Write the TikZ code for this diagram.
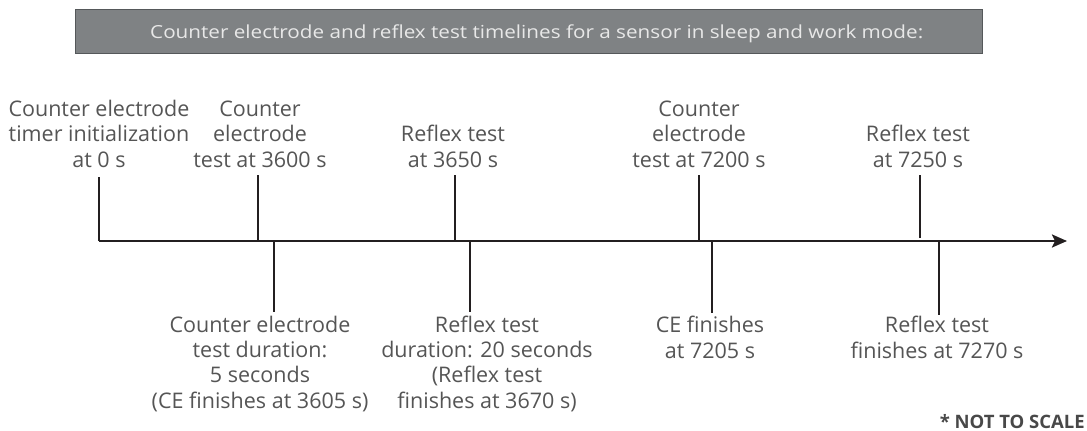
\documentclass[tikz,border=0pt]{standalone}
\usepackage{fontspec}
\setmainfont{Open Sans}
\usetikzlibrary{arrows.meta}
\definecolor{barfill}{HTML}{7F8284}
\definecolor{barline}{HTML}{55585A}
\definecolor{bartext}{HTML}{E8E8E8}
\definecolor{labeltext}{HTML}{555555}
\definecolor{axisink}{HTML}{231F20}
\tikzset{
  label/.style={align=center, inner sep=0pt, anchor=base, text=labeltext,
    font=\fontsize{21.5}{25.3}\selectfont},
  tick/.style={draw=axisink, line width=2.2pt},
  axis/.style={draw=axisink, line width=2.4pt, -{Stealth[length=15pt,width=13pt,inset=3pt]}},
}
\begin{document}
\begin{tikzpicture}[x=1pt,y=-1pt]
\useasboundingbox (0,0) rectangle (1087,431);

% heading bar
\fill[barfill] (75,9) rectangle (982,53);
\draw[barline, line width=1pt] (75,53) -- (75,9) -- (982,9) -- (982,53) -- cycle;
\node[inner sep=0pt, anchor=base west, text=bartext, font=\fontsize{18}{20}\selectfont]
  (title) at (150,38)
  {\resizebox{773pt}{\height}{Counter electrode and reflex test timelines for a sensor in sleep and work mode:}};

% time axis
\coordinate (start) at (99,241);
\coordinate (end) at (1067,241);
\draw[axis] (start) -- (end);

% events above the axis
\coordinate (u1) at (258,241); \coordinate (u1t) at (258,175);
\coordinate (u2) at (455,241); \coordinate (u2t) at (455,175);
\coordinate (u3) at (699,241); \coordinate (u3t) at (699,175);
\coordinate (u4) at (920,238); \coordinate (u4t) at (920,175);
\coordinate (u0t) at (99,177);
\draw[tick] (start) -- (u0t);
\draw[tick] (u1) -- (u1t);
\draw[tick] (u2) -- (u2t);
\draw[tick] (u3) -- (u3t);
\draw[tick] (u4) -- (u4t);

% events below the axis
\coordinate (d1) at (274,241); \coordinate (d1b) at (274,312);
\coordinate (d2) at (470,241); \coordinate (d2b) at (470,312);
\coordinate (d3) at (712,241); \coordinate (d3b) at (712,313);
\coordinate (d4) at (939,241); \coordinate (d4b) at (939,315);
\draw[tick] (d1) -- (d1b);
\draw[tick] (d2) -- (d2b);
\draw[tick] (d3) -- (d3b);
\draw[tick] (d4) -- (d4b);

% labels above (anchored at the baseline of their last line)
\node[label] (a0) at (99,167) {Counter electrode\\timer initialization\\at 0 s};
\node[label] (a1) at (260,167) {Counter\\electrode\\test at 3600 s};
\node[label] (a2) at (453,167) {Reflex test\\at 3650 s};
\node[label] (a3) at (699,167) {Counter\\electrode\\test at 7200 s};
\node[label] (a4) at (918,167) {Reflex test\\at 7250 s};

% labels below
\node[label] (b1) at (260,408) {Counter electrode\\test duration:\\5 seconds\\(CE finishes at 3605 s)};
\node[label] (b2) at (487,408) {Reflex test\\duration: 20 seconds\\(Reflex test\\finishes at 3670 s)};
\node[label] (b3) at (710,358) {CE finishes\\at 7205 s};
\node[label] (b4) at (937,358) {Reflex test\\finishes at 7270 s};

% note
\node[inner sep=0pt, anchor=base east, text=labeltext!85!black,
  font=\fontsize{18.5}{20}\selectfont\bfseries] (note) at (1085,428) {* NOT TO SCALE};
\end{tikzpicture}
\end{document}
